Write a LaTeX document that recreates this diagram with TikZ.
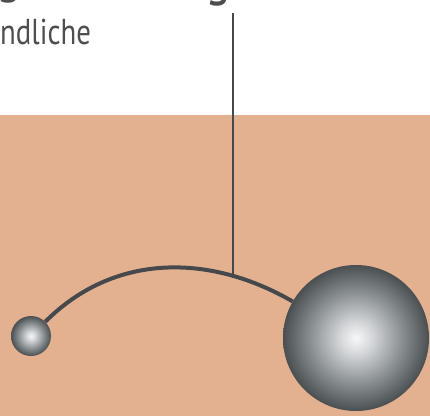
\documentclass[tikz,border=0pt]{standalone}
\usepackage{fontspec}
\usetikzlibrary{positioning}
\newfontfamily\labelfont[FakeStretch=0.8]{PT Sans}
\definecolor{Sand}{RGB}{228,177,144}
\definecolor{Graphite}{RGB}{70,73,76}
\definecolor{TextGrey}{RGB}{77,78,80}
\pgfdeclareradialshading{metalball}{\pgfpoint{0bp}{0bp}}{%
  rgb(0bp)=(0.97,0.97,0.97);
  rgb(6bp)=(0.82,0.83,0.84);
  rgb(15bp)=(0.56,0.58,0.59);
  rgb(25bp)=(0.29,0.31,0.32);
  rgb(50bp)=(0.29,0.31,0.32)}
\tikzset{
  sphere/.style={circle,shading=metalball,inner sep=0pt},
  wire/.style={draw=Graphite,line width=4pt},
  pin/.style={draw=Graphite,line width=1.8pt},
  caption/.style={font={\labelfont\fontsize{36}{40}\selectfont},text=TextGrey,inner sep=0pt},
  title/.style={font={\labelfont\fontsize{60}{64}\selectfont},text=TextGrey,inner sep=0pt}
}
\begin{document}
\begin{tikzpicture}[x=1pt,y=1pt]
  \useasboundingbox (0,0) rectangle (430,416);
  \clip (0,0) rectangle (430,416);
  \fill[Sand] (0,0) rectangle (430,301);
  % cut-off heading
  \node[title,anchor=base west] (gleft) at (-4,425) {g};
  \node[title,anchor=base west] (gright) at (205,422) {g};
  \node[caption,anchor=base west] (sub) at (0,371) {ndliche};
  % balls and wire
  \node[sphere,minimum size=40pt] (small) at (31,80) {};
  \node[sphere,minimum size=146pt] (big) at (356,78) {};
  \coordinate (pintop) at (233,403);
  \coordinate (pinend) at (233,138);
  \draw[pin] (pintop) -- (pinend);
  \draw[wire] (small) to[out=45,in=150] (big);
\end{tikzpicture}
\end{document}
